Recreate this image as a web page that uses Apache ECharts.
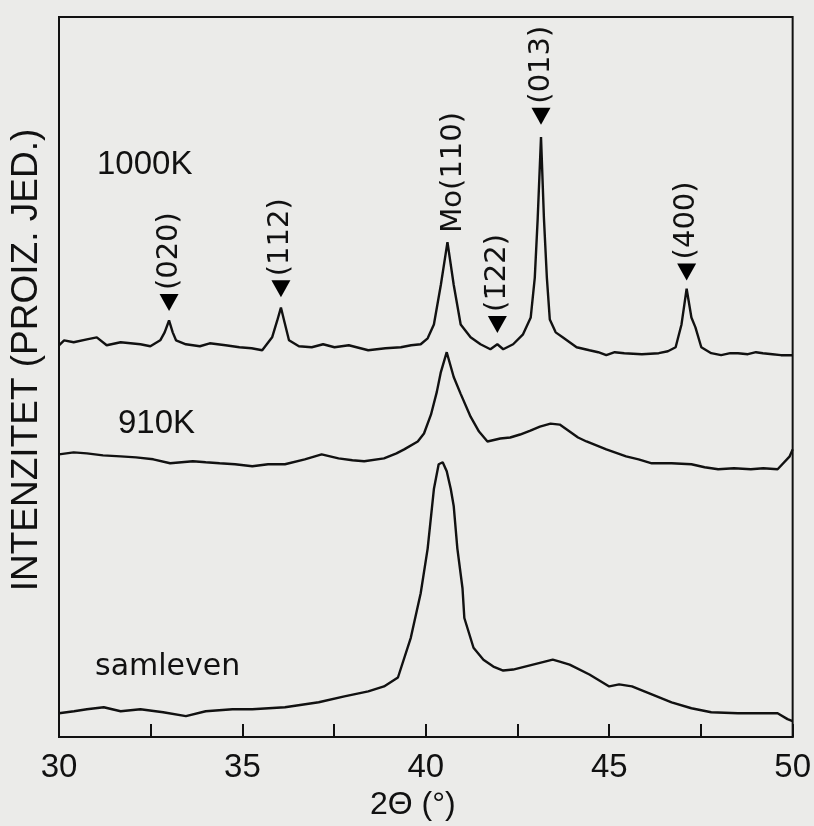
<!DOCTYPE html>
<html>
<head>
<meta charset="utf-8">
<script src="https://cdn.jsdelivr.net/npm/echarts@6/dist/echarts.min.js"></script>
<style>
html,body{margin:0;padding:0;background:#ebebe9;}
#c{width:814px;height:826px;}
</style>
</head>
<body>
<div id="c"></div>
<script>
// 2θ (°) positions and intensities (arbitrary units, curves offset vertically as in the figure)
const theta1000 = [30.0,30.14,30.4,30.76,31.03,31.3,31.68,31.95,32.22,32.49,32.76,32.88,33.0,33.1,33.19,33.46,33.84,34.11,34.54,34.92,35.25,35.54,35.81,35.95,36.05,36.15,36.27,36.54,36.89,37.2,37.51,37.9,38.43,38.9,39.32,39.6,39.86,40.05,40.22,40.41,40.59,40.76,40.95,41.22,41.49,41.76,41.95,42.11,42.38,42.65,42.86,42.97,43.05,43.14,43.22,43.3,43.38,43.54,43.73,44.11,44.46,44.7,44.92,45.15,45.41,45.89,46.35,46.6,46.81,46.97,47.11,47.24,47.35,47.51,47.78,48.05,48.3,48.51,48.78,49.0,49.19,49.45,49.68,50.0];
const int1000 = [395,400,398,401,403,395,398,397,396,394,400,408,420,408,400,396,394,397,395,393,392,390,403,420,433,418,400,394,393,396,393,395,390,392,393,395,396,402,416,456,499,456,416,403,396,391,396,391,396,406,423,463,523,605,523,463,421,408,403,393,390,388,385,388,387,386,387,389,393,416,452,423,413,393,387,385,387,387,386,388,387,386,385,385];

const theta910 = [30.0,30.4,30.76,31.2,31.68,32.1,32.57,33.03,33.65,34.0,34.38,34.8,35.27,35.7,36.16,36.7,37.16,37.62,38.0,38.32,38.86,39.2,39.41,39.78,39.95,40.14,40.3,40.41,40.57,40.76,40.95,41.22,41.45,41.68,42.03,42.3,42.57,42.85,43.11,43.4,43.65,43.92,44.15,44.38,44.92,45.46,45.8,46.16,46.7,47.24,47.6,47.97,48.4,48.86,49.2,49.59,49.92,50.0];
const int910 = [285,287,286,284,283,282,280,276,278,277,276,275,273,275,275,280,285,281,279,278,281,286,290,298,306,325,348,368,388,363,346,323,308,298,301,302,305,309,313,316,315,308,302,298,290,283,280,276,276,275,272,270,271,270,271,270,283,290];

const thetaSam = [30.0,30.41,30.76,31.22,31.68,32.22,32.84,33.46,34.0,34.73,35.27,36.16,37.08,37.78,38.43,38.86,39.24,39.59,39.86,40.05,40.22,40.35,40.46,40.57,40.68,40.76,40.86,41.0,41.05,41.3,41.57,41.84,42.11,42.38,42.92,43.46,43.65,43.92,44.46,45.0,45.27,45.62,46.16,46.7,47.24,47.78,48.51,49.2,49.59,49.86,50.0];
const intSam = [24,26,28,30,26,28,25,21,26,28,28,30,35,41,46,51,60,100,145,190,250,275,277,268,250,233,190,150,120,90,78,71,67,68,73,78,76,73,63,51,53,51,43,35,29,25,24,24,24,18,16];

// reflection markers
const peakNames = ['(020)','(112)','(1\u030422)','(013)','(400)'];
const peakTheta = [33.0,36.05,41.95,43.14,47.11];
const peakMarkY = [438,452,416,626,469];
const moName = 'Mo(110)';
const moTheta = 40.76;
const moLabelY = 507;

// x-axis tick labels
const xTickLabels = ['30','35','40','45','50'];

const zip = (a,b) => a.map((v,i)=>[v,b[i]]);
const lineColor = '#111111';

const chart = echarts.init(document.getElementById('c'));
chart.setOption({
  backgroundColor: '#ebebe9',
  animation: false,
  grid: {left:55, right:19, top:17, bottom:83, show:true, borderColor:lineColor, borderWidth:2, backgroundColor:'transparent'},
  xAxis: {
    type:'value', min:30, max:50, interval:2.5,
    axisLine:{show:true, lineStyle:{color:lineColor, width:2}},
    axisTick:{show:true, inside:true, length:13, lineStyle:{color:lineColor, width:2}},
    splitLine:{show:false},
    axisLabel:{
      margin:14, color:'#111', fontFamily:'Liberation Sans', fontSize:33,
      formatter: v => { const i = xTickLabels.indexOf(String(v)); return i>=0 ? xTickLabels[i] : ''; }
    },
    name:'2\u0398 (\u00b0)', nameLocation:'middle', nameGap:68,
    nameTextStyle:{color:'#111', fontFamily:'Liberation Sans', fontSize:32, verticalAlign:'middle', padding:[0,26,0,0]}
  },
  yAxis: {
    type:'value', min:0, max:726,
    axisLine:{show:true, lineStyle:{color:lineColor, width:2}},
    axisTick:{show:false}, axisLabel:{show:false}, splitLine:{show:false},
    name:'INTENZITET (PROIZ. JED.)', nameLocation:'middle', nameRotate:90, nameGap:14,
    nameTextStyle:{color:'#111', fontFamily:'Liberation Sans', fontSize:37, verticalAlign:'bottom', padding:[0,0,0,34]}
  },
  series: [
    {type:'line', data:zip(theta1000,int1000), showSymbol:false, lineStyle:{color:lineColor,width:2.4}},
    {type:'line', data:zip(theta910,int910), showSymbol:false, lineStyle:{color:lineColor,width:2.4}},
    {type:'line', data:zip(thetaSam,intSam), showSymbol:false, lineStyle:{color:lineColor,width:2.4}},
    {
      type:'scatter', data:zip(peakTheta,peakMarkY), symbol:'triangle', symbolRotate:180, symbolSize:[19,17],
      itemStyle:{color:'#000', opacity:1},
      label:{show:true, position:'top', distance:4, rotate:90, align:'left', verticalAlign:'middle',
        color:'#111', opacity:1, fontFamily:'DejaVu Sans', fontSize:29,
        formatter: p => peakNames[p.dataIndex]}
    },
    {
      type:'scatter', data:[[moTheta,moLabelY]], symbol:'circle', symbolSize:1,
      itemStyle:{color:'#ebebe9', opacity:1},
      label:{show:true, position:'top', distance:1, rotate:90, align:'left', verticalAlign:'middle',
        color:'#111', opacity:1, fontFamily:'DejaVu Sans', fontSize:29, formatter: () => moName}
    }
  ],
  graphic: [
    {type:'text', left:97, top:148, style:{text:'1000K', fill:'#111', font:'33px "Liberation Sans"'}},
    {type:'text', left:118, top:407, style:{text:'910K', fill:'#111', font:'33px "Liberation Sans"'}},
    {type:'text', left:95, top:652, style:{text:'samleven', fill:'#111', font:'30px "DejaVu Sans"'}}
  ]
});
</script>
</body>
</html>
